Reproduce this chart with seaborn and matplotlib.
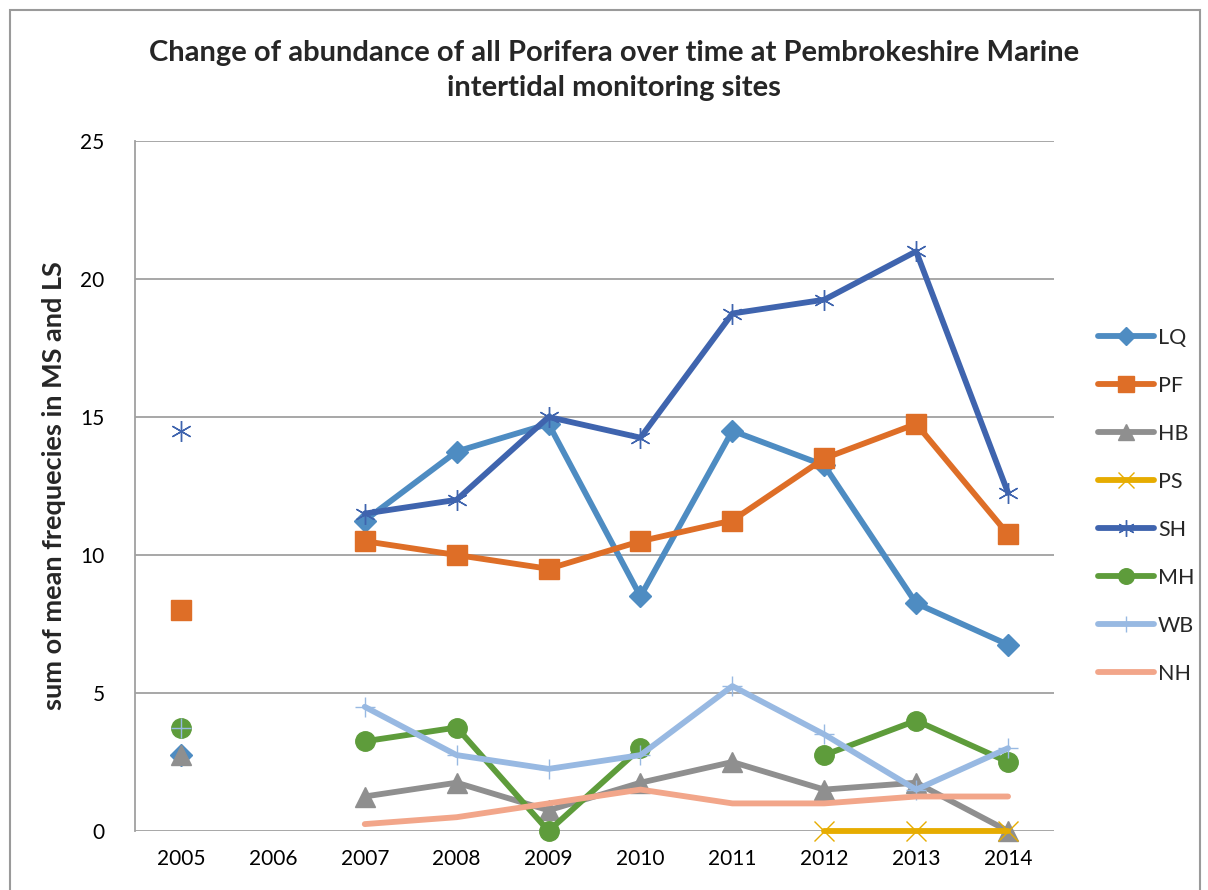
import numpy as np
import pandas as pd
import seaborn as sns
import matplotlib.pyplot as plt
from matplotlib.lines import Line2D
from matplotlib.patches import Rectangle

nan = np.nan
years = ['2005', '2006', '2007', '2008', '2009', '2010', '2011', '2012', '2013', '2014']
sites = ['LQ', 'PF', 'HB', 'PS', 'SH', 'MH', 'WB', 'NH']

lq = [2.75, nan, 11.25, 13.75, 14.75, 8.5, 14.5, 13.25, 8.25, 6.75]
pf = [8, nan, 10.5, 10, 9.5, 10.5, 11.25, 13.5, 14.75, 10.75]
hb = [2.75, nan, 1.25, 1.75, 0.75, 1.75, 2.5, 1.5, 1.75, 0]
ps = [nan, nan, nan, nan, nan, nan, nan, 0, 0, 0]
sh = [14.5, nan, 11.5, 12, 15, 14.25, 18.75, 19.25, 21, 12.25]
mh = [3.75, nan, 3.25, 3.75, 0, 3, nan, 2.75, 4, 2.5]
wb = [3.75, nan, 4.5, 2.75, 2.25, 2.75, 5.25, 3.5, 1.5, 3]
nh = [nan, nan, 0.25, 0.5, 1, 1.5, 1, 1, 1.25, 1.25]

values = dict(LQ=lq, PF=pf, HB=hb, PS=ps, SH=sh, MH=mh, WB=wb, NH=nh)

colors = dict(LQ='#4e8cc2', PF='#de6e27', HB='#8f8f8f', PS='#e6ac00',
              SH='#3f64ae', MH='#5e9c3b', WB='#98b9e2', NH='#f2a68a')
markers = dict(LQ='D', PF='s', HB='^', PS='x', SH=(6, 2, 0), MH='o', WB='+', NH='None')
msizes = dict(LQ=11, PF=14, HB=14, PS=14, SH=15, MH=14, WB=15, NH=0)

# long table, with a segment id so gaps (NaN) break the lines
rows = []
for s in sites:
    seg = 0
    for i, v in enumerate(values[s]):
        if np.isnan(v):
            seg += 1
            continue
        rows.append(dict(site=s, pos=i, value=v, seg=seg))
df = pd.DataFrame(rows)

sns.set_theme(style='white')
plt.rcParams['font.family'] = ['Lato', 'DejaVu Sans']

fig = plt.figure(figsize=(12.08, 8.9), dpi=100)
ax = fig.add_axes([135 / 1208, 1 - 831 / 890, (1054 - 135) / 1208, (831 - 141) / 890])

for s in sites:
    sub = df[df['site'] == s]
    sns.lineplot(data=sub, x='pos', y='value', units='seg', estimator=None,
                 color=colors[s], lw=4.2, marker=markers[s], markersize=msizes[s],
                 markeredgecolor=colors[s], markeredgewidth=1,
                 solid_capstyle='round', ax=ax, legend=False, zorder=3)

ax.set_xlim(-0.5, 9.5)
ax.set_ylim(0, 25)
ax.set_yticks(range(0, 26, 5))
ax.set_xticks(range(len(years)))
ax.set_xticklabels(years)
ax.yaxis.grid(True, color='#a0a0a0', lw=1.3)
ax.set_axisbelow(True)
for side in ['top', 'right', 'bottom']:
    ax.spines[side].set_visible(False)
ax.spines['left'].set_color('#a0a0a0')
ax.spines['left'].set_linewidth(1.3)
ax.tick_params(axis='both', length=0, labelsize=15, colors='black')
ax.tick_params(axis='x', pad=13)
ax.tick_params(axis='y', pad=22)
ax.set_xlabel('')
ax.set_ylabel('sum of mean frequecies in MS and LS', fontsize=19.5, fontweight='bold', labelpad=10)
for ln in ax.lines:
    ln.set_clip_on(False)

fig.suptitle('Change of abundance of all Porifera over time at Pembrokeshire Marine\nintertidal monitoring sites',
             x=614 / 1208, y=1 - 40 / 890, fontsize=21, fontweight='bold', linespacing=1.45)

handles = []
for s in sites:
    handles.append(Line2D([], [], color=colors[s], lw=4.2, marker=markers[s],
                          markersize=msizes[s] * 0.8, markeredgecolor=colors[s],
                          solid_capstyle='round', label=s))
fig.legend(handles=handles, loc='upper left', bbox_to_anchor=(1089 / 1208, 1 - 319 / 890),
           frameon=False, fontsize=15.5, handlelength=2.6, labelspacing=1.3,
           handletextpad=0.2, borderaxespad=0)

fig.patches.append(Rectangle((10 / 1208, -0.1), 1190 / 1208, 1.1 - 10 / 890,
                             transform=fig.transFigure, fill=False, ec='#9a9a9a', lw=1.5))

fig.savefig('out.png', dpi=100)
